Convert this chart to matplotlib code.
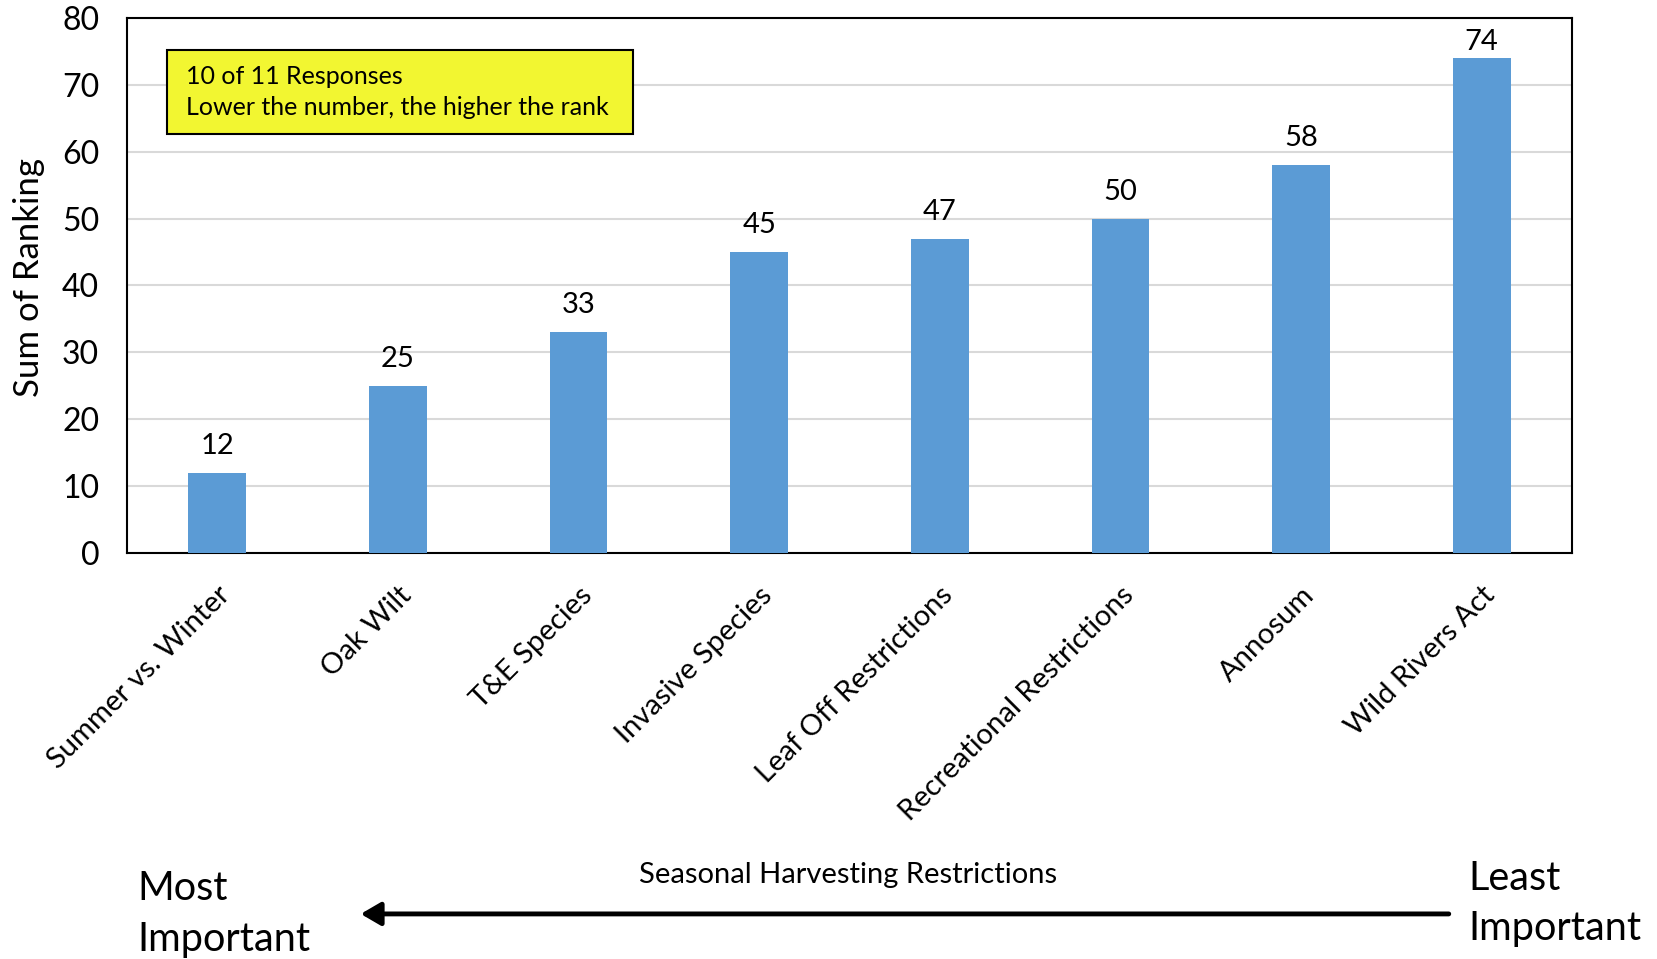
import matplotlib.pyplot as plt
from matplotlib.patches import Rectangle, FancyArrowPatch

plt.rcParams["font.family"] = ["Lato", "DejaVu Sans"]

categories = [
    "Summer vs. Winter",
    "Oak Wilt",
    "T&E Species",
    "Invasive Species",
    "Leaf Off Restrictions",
    "Recreational Restrictions",
    "Annosum",
    "Wild Rivers Act",
]
sum_of_ranking = [12, 25, 33, 45, 47, 50, 58, 74]
y_ticks = [0, 10, 20, 30, 40, 50, 60, 70, 80]

bar_color = "#5B9BD5"
y_max = 80

fig = plt.figure(figsize=(16.57, 9.59), dpi=100)
ax = fig.add_axes([0.0766, 0.4234, 0.8721, 0.5578])

x = range(len(categories))
bars = ax.bar(x, sum_of_ranking, width=0.32, color=bar_color, zorder=3)

for rect, val in zip(bars, sum_of_ranking):
    # labels near the top of the plot get pulled down to stay inside
    offset = 10 if val < y_max - 8 else 2.5
    ax.annotate(
        str(val),
        xy=(rect.get_x() + rect.get_width() / 2, rect.get_height()),
        xytext=(0, offset),
        textcoords="offset points",
        ha="center",
        va="bottom",
        fontsize=21,
    )

ax.set_xlim(-0.5, len(categories) - 0.5)
ax.set_ylim(0, y_max)
ax.set_yticks(y_ticks)
ax.tick_params(axis="y", labelsize=23, length=0, pad=20)
ax.tick_params(axis="x", length=0)
ax.set_xticks(list(x))
ax.set_xticklabels(
    categories, rotation=45, ha="right", va="top", rotation_mode="anchor", fontsize=21
)
for lbl in ax.get_xticklabels():
    lbl.set_y(-0.045)

ax.grid(axis="y", color="#D9D9D9", linewidth=1.5, zorder=0)
for s in ax.spines.values():
    s.set_linewidth(1.5)
    s.set_color("black")

ax.set_ylabel("Sum of Ranking", fontsize=25)
ax.yaxis.set_label_coords(-0.057, 0.515)

# note box
ax.add_patch(
    Rectangle(
        (0.0277, 0.783), 0.3225, 0.157,
        transform=ax.transAxes, facecolor="#F2F631", edgecolor="black",
        linewidth=1.5, zorder=5,
    )
)
ax.text(
    0.041, 0.862, "10 of 11 Responses\nLower the number, the higher the rank",
    transform=ax.transAxes, ha="left", va="center", fontsize=18,
    linespacing=1.45, zorder=6,
)

fig.text(0.512, 0.088, "Seasonal Harvesting Restrictions", ha="center", va="center", fontsize=21)
fig.text(0.083, 0.047, "Most\nImportant", ha="left", va="center", fontsize=28.5, linespacing=1.45)
fig.text(0.886, 0.058, "Least\nImportant", ha="left", va="center", fontsize=28.5, linespacing=1.45)
fig.patches.append(
    FancyArrowPatch(
        (0.876, 0.047), (0.216, 0.047), transform=fig.transFigure,
        arrowstyle="-|>,head_length=0.6,head_width=0.35", mutation_scale=20,
        color="black", linewidth=3.5,
    )
)

fig.savefig("out.png", dpi=100)
plt.close()
